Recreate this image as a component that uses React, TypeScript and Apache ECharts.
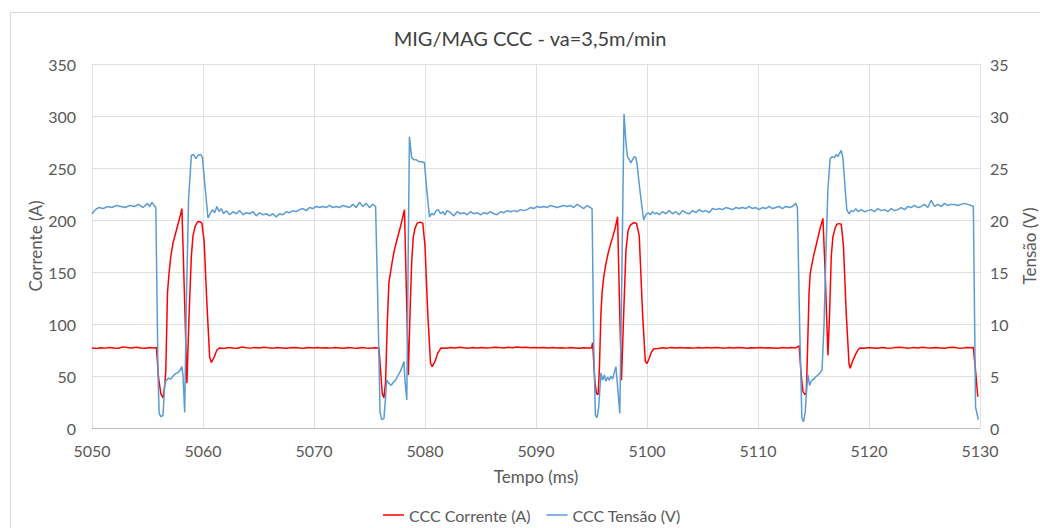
import React, { useEffect, useRef } from "react";
import * as echarts from "echarts";

const chartTitle = "MIG/MAG CCC - va=3,5m/min";
const currentName = "CCC Corrente (A)";
const voltageName = "CCC Tensão (V)";
const voltageAxisName = "Tensão (V)";

// [time (ms), current (A)]
const currentData: [number, number][] = [
  [5050.0, 77], [5050.4, 76.5], [5050.8, 77.2], [5051.2, 76.8], [5051.6, 77.5], [5052.0, 77], [5052.4, 76.6],
  [5052.8, 78], [5053.2, 77.3], [5053.6, 76.9], [5054.0, 77.6], [5054.4, 77], [5054.8, 76.7], [5055.2, 77.3],
  [5055.6, 77], [5055.8, 77.5], [5056.0, 48], [5056.2, 33], [5056.4, 29], [5056.55, 40], [5056.65, 55],
  [5056.8, 130], [5056.95, 150], [5057.1, 165], [5057.3, 178], [5057.5, 186], [5057.7, 194], [5057.9, 202],
  [5058.1, 211], [5058.35, 120], [5058.55, 43], [5058.75, 110], [5058.95, 165], [5059.1, 185], [5059.3, 194],
  [5059.5, 198], [5059.7, 198.5], [5059.9, 197], [5060.1, 180], [5060.35, 120], [5060.6, 68], [5060.75, 63],
  [5061.0, 68], [5061.25, 75], [5061.5, 77], [5061.9, 76.5], [5062.3, 77.5], [5062.7, 77], [5063.1, 76.6],
  [5063.5, 77.8], [5063.9, 77.2], [5064.3, 76.8], [5064.7, 77.4], [5065.1, 77], [5065.5, 77.6], [5065.9, 77.1],
  [5066.3, 76.8], [5066.7, 77.3], [5067.1, 77], [5067.5, 76.7], [5067.9, 77.2], [5068.3, 77.5], [5068.7, 77],
  [5069.1, 76.6], [5069.5, 77.3], [5069.9, 77], [5070.3, 77.5], [5070.7, 76.9], [5071.1, 77.2], [5071.5, 76.8],
  [5071.9, 77.3], [5072.3, 77], [5072.7, 76.6], [5073.1, 77.4], [5073.5, 77], [5073.9, 76.7], [5074.3, 77.5],
  [5074.7, 77], [5075.1, 76.8], [5075.5, 77.2], [5075.85, 77], [5076.0, 55], [5076.15, 33], [5076.3, 29],
  [5076.45, 45], [5076.6, 100], [5076.75, 140], [5076.9, 150], [5077.05, 160], [5077.2, 169], [5077.4, 178],
  [5077.6, 186], [5077.8, 194], [5078.0, 203], [5078.15, 210], [5078.35, 120], [5078.5, 51], [5078.65, 110],
  [5078.8, 160], [5078.95, 184], [5079.1, 192], [5079.3, 197], [5079.55, 198], [5079.8, 197], [5080.0, 175],
  [5080.25, 110], [5080.5, 62], [5080.65, 59], [5080.9, 64], [5081.15, 72], [5081.45, 77], [5081.9, 76.6],
  [5082.3, 77.3], [5082.7, 77], [5083.1, 77.6], [5083.5, 77.1], [5083.9, 76.8], [5084.3, 77.4], [5084.7, 77],
  [5085.1, 77.5], [5085.5, 76.9], [5085.9, 77.2], [5086.3, 77.7], [5086.7, 77.3], [5087.1, 77], [5087.5, 77.6],
  [5087.9, 77.2], [5088.3, 77.8], [5088.7, 77.4], [5089.1, 77.6], [5089.5, 77.2], [5089.9, 77.5], [5090.3, 77.1],
  [5090.7, 77.4], [5091.1, 77], [5091.5, 77.3], [5091.9, 76.9], [5092.3, 77.2], [5092.7, 76.8], [5093.1, 77.3],
  [5093.5, 77], [5093.9, 76.7], [5094.3, 77.2], [5094.7, 76.9], [5095.0, 77], [5095.1, 82], [5095.3, 45],
  [5095.45, 33], [5095.6, 32], [5095.72, 60], [5095.85, 110], [5095.95, 130], [5096.1, 145], [5096.3, 158],
  [5096.5, 168], [5096.75, 178], [5096.95, 185], [5097.15, 193], [5097.35, 203], [5097.5, 130], [5097.7, 46],
  [5097.9, 110], [5098.1, 170], [5098.3, 190], [5098.5, 195], [5098.8, 197.4], [5099.05, 197], [5099.3, 185],
  [5099.6, 110], [5099.85, 64], [5100.0, 62], [5100.2, 67], [5100.4, 73], [5100.6, 76], [5101.0, 76.5],
  [5101.4, 77.1], [5101.8, 76.8], [5102.2, 77.3], [5102.6, 76.9], [5103.0, 77.5], [5103.4, 77], [5103.8, 77.2],
  [5104.2, 76.8], [5104.6, 77.4], [5105.0, 77], [5105.4, 77.3], [5105.8, 76.9], [5106.2, 77.5], [5106.6, 77.1],
  [5107.0, 76.8], [5107.4, 77.3], [5107.8, 77], [5108.2, 77.5], [5108.6, 77.1], [5109.0, 76.7], [5109.4, 77.2],
  [5109.8, 77], [5110.2, 77.4], [5110.6, 76.9], [5111.0, 77.2], [5111.4, 77], [5111.8, 76.7], [5112.2, 77.3],
  [5112.6, 77], [5113.0, 77.4], [5113.4, 77], [5113.7, 79], [5113.9, 50], [5114.05, 35], [5114.25, 32],
  [5114.35, 34], [5114.45, 70], [5114.6, 130], [5114.7, 148], [5114.85, 157], [5115.0, 165], [5115.2, 174],
  [5115.4, 183], [5115.6, 192], [5115.85, 201.6], [5116.05, 150], [5116.3, 70], [5116.45, 110], [5116.6, 165],
  [5116.75, 184], [5116.95, 192], [5117.1, 196], [5117.3, 196.5], [5117.5, 196], [5117.7, 175], [5117.95, 110],
  [5118.2, 62], [5118.3, 57.4], [5118.55, 65], [5118.8, 71], [5119.0, 75], [5119.2, 77], [5119.6, 76.6],
  [5120.0, 77.3], [5120.4, 77], [5120.8, 76.7], [5121.2, 77.4], [5121.6, 77], [5122.0, 76.8], [5122.4, 77.3],
  [5122.8, 77.6], [5123.2, 77.1], [5123.6, 76.8], [5124.0, 77.3], [5124.4, 77], [5124.8, 77.6], [5125.2, 77.2],
  [5125.6, 76.9], [5126.0, 77.4], [5126.4, 77], [5126.8, 76.6], [5127.2, 77.3], [5127.6, 77.7], [5128.0, 77],
  [5128.4, 76.8], [5128.8, 77.5], [5129.2, 77.2], [5129.4, 77.5], [5129.6, 55], [5129.8, 30],
];

// [time (ms), voltage (V)]
const voltageData: [number, number][] = [
  [5050.0, 20.6], [5050.3, 21.0], [5050.6, 21.2], [5051.0, 21.1], [5051.4, 21.3], [5051.8, 21.2], [5052.2, 21.4],
  [5052.6, 21.3], [5053.0, 21.2], [5053.4, 21.4], [5053.8, 21.3], [5054.2, 21.5], [5054.6, 21.2], [5055.0, 21.6],
  [5055.2, 21.3], [5055.4, 21.7], [5055.6, 21.4], [5055.75, 21.2], [5055.95, 5.0], [5056.05, 1.4], [5056.2, 1.1],
  [5056.4, 1.2], [5056.55, 4.3], [5056.7, 4.6], [5056.9, 4.8], [5057.1, 4.7], [5057.3, 5.0], [5057.5, 5.2],
  [5057.7, 5.3], [5057.9, 5.5], [5058.1, 5.9], [5058.2, 5.0], [5058.35, 1.5], [5058.5, 12], [5058.7, 22],
  [5058.95, 26.2], [5059.15, 26.3], [5059.35, 25.9], [5059.55, 26.2], [5059.8, 26.3], [5059.95, 26.0],
  [5060.2, 23.0], [5060.45, 20.2], [5060.65, 20.6], [5060.85, 21.0], [5061.05, 20.7], [5061.25, 21.3],
  [5061.45, 20.8], [5061.65, 21.1], [5061.85, 20.6], [5062.1, 20.9], [5062.4, 20.5], [5062.7, 20.8], [5063.0, 20.6],
  [5063.3, 20.9], [5063.6, 20.5], [5063.9, 20.7], [5064.2, 20.6], [5064.5, 20.8], [5064.8, 20.4], [5065.1, 20.7],
  [5065.4, 20.5], [5065.7, 20.6], [5066.0, 20.4], [5066.3, 20.6], [5066.6, 20.3], [5066.9, 20.6], [5067.2, 20.5],
  [5067.5, 20.8], [5067.8, 20.7], [5068.1, 20.9], [5068.4, 20.8], [5068.7, 21.0], [5069.0, 21.1], [5069.3, 20.9],
  [5069.6, 21.2], [5069.9, 21.1], [5070.2, 21.3], [5070.5, 21.2], [5070.8, 21.3], [5071.1, 21.2], [5071.4, 21.4],
  [5071.7, 21.2], [5072.0, 21.3], [5072.3, 21.2], [5072.6, 21.4], [5072.9, 21.3], [5073.2, 21.2], [5073.5, 21.5],
  [5073.8, 21.2], [5074.1, 21.7], [5074.4, 21.3], [5074.7, 21.6], [5075.0, 21.2], [5075.3, 21.5], [5075.55, 21.3],
  [5075.75, 12], [5075.95, 1.5], [5076.1, 0.8], [5076.3, 0.9], [5076.45, 3.0], [5076.55, 4.6], [5076.75, 4.3],
  [5076.95, 4.1], [5077.15, 4.4], [5077.35, 4.6], [5077.55, 5.0], [5077.75, 5.4], [5077.95, 5.9], [5078.1, 6.4],
  [5078.2, 4.5], [5078.36, 2.7], [5078.5, 18], [5078.6, 28.0], [5078.8, 26.0], [5079.0, 25.8], [5079.2, 25.8],
  [5079.45, 25.6], [5079.7, 25.6], [5079.95, 25.5], [5080.15, 23.0], [5080.4, 20.3], [5080.6, 20.6], [5080.8, 20.5],
  [5081.0, 20.9], [5081.2, 21.0], [5081.4, 20.6], [5081.6, 20.8], [5081.8, 20.5], [5082.0, 20.9], [5082.3, 20.7],
  [5082.6, 20.4], [5082.9, 20.8], [5083.2, 20.6], [5083.5, 20.7], [5083.8, 20.5], [5084.1, 20.8], [5084.4, 20.6],
  [5084.7, 20.7], [5085.0, 20.5], [5085.3, 20.7], [5085.6, 20.6], [5085.9, 20.8], [5086.2, 20.6], [5086.5, 20.5],
  [5086.8, 20.8], [5087.1, 20.7], [5087.4, 20.9], [5087.7, 20.8], [5088.0, 20.9], [5088.3, 20.8], [5088.6, 21.0],
  [5088.9, 20.9], [5089.2, 21.0], [5089.5, 21.2], [5089.8, 21.1], [5090.1, 21.3], [5090.4, 21.2], [5090.7, 21.3],
  [5091.0, 21.2], [5091.3, 21.4], [5091.6, 21.3], [5091.9, 21.2], [5092.2, 21.3], [5092.5, 21.4], [5092.8, 21.3],
  [5093.1, 21.4], [5093.4, 21.2], [5093.7, 21.5], [5094.0, 21.3], [5094.3, 21.1], [5094.6, 21.4], [5094.9, 21.2],
  [5095.05, 21.1], [5095.2, 8], [5095.35, 1.2], [5095.5, 1.0], [5095.65, 2.0], [5095.85, 5.3], [5096.0, 4.6],
  [5096.15, 5.1], [5096.3, 4.5], [5096.45, 4.9], [5096.6, 4.6], [5096.75, 5.0], [5096.9, 4.7], [5097.05, 5.3],
  [5097.2, 5.9], [5097.35, 4.0], [5097.55, 1.4], [5097.75, 16], [5097.93, 30.2], [5098.1, 27.5], [5098.24, 26.1],
  [5098.4, 25.8], [5098.55, 25.5], [5098.7, 25.8], [5098.85, 26.1], [5099.0, 26.0], [5099.1, 25.4], [5099.4, 22.5],
  [5099.7, 20.0], [5099.9, 20.5], [5100.1, 20.7], [5100.3, 20.5], [5100.5, 20.8], [5100.7, 20.6], [5100.9, 20.7],
  [5101.1, 20.5], [5101.4, 20.8], [5101.7, 20.6], [5102.0, 20.9], [5102.3, 20.6], [5102.6, 20.8], [5102.9, 20.5],
  [5103.2, 20.9], [5103.5, 20.7], [5103.8, 20.6], [5104.1, 20.9], [5104.4, 20.7], [5104.7, 21.0], [5105.0, 20.8],
  [5105.3, 20.9], [5105.6, 20.7], [5105.9, 21.1], [5106.2, 21.0], [5106.5, 21.1], [5106.8, 21.0], [5107.1, 21.2],
  [5107.4, 21.1], [5107.7, 21.0], [5108.0, 21.2], [5108.3, 21.1], [5108.6, 21.2], [5108.9, 21.1], [5109.2, 21.3],
  [5109.5, 21.1], [5109.8, 21.2], [5110.1, 21.0], [5110.4, 21.2], [5110.7, 21.1], [5111.0, 21.3], [5111.3, 21.1],
  [5111.6, 21.2], [5111.9, 21.3], [5112.2, 21.1], [5112.5, 21.3], [5112.8, 21.2], [5113.1, 21.3], [5113.4, 21.6],
  [5113.55, 21.2], [5113.75, 10], [5113.95, 1.0], [5114.1, 0.6], [5114.25, 1.5], [5114.4, 4.0], [5114.5, 5.1],
  [5114.65, 4.1], [5114.8, 4.5], [5115.0, 4.7], [5115.2, 4.9], [5115.4, 5.1], [5115.6, 5.3], [5115.77, 5.6],
  [5115.95, 10], [5116.15, 18], [5116.3, 23], [5116.5, 25.9], [5116.7, 26.1], [5116.9, 26.0], [5117.05, 26.3],
  [5117.2, 26.1], [5117.35, 26.4], [5117.5, 26.7], [5117.65, 26.0], [5117.85, 23.0], [5118.0, 21.0], [5118.2, 20.6],
  [5118.4, 20.9], [5118.6, 20.8], [5118.8, 21.1], [5119.0, 20.8], [5119.3, 21.0], [5119.6, 20.8], [5119.9, 20.9],
  [5120.2, 21.0], [5120.5, 20.8], [5120.8, 21.1], [5121.1, 20.9], [5121.4, 21.0], [5121.7, 20.8], [5122.0, 21.1],
  [5122.3, 20.9], [5122.6, 21.0], [5122.9, 21.2], [5123.2, 21.0], [5123.5, 21.3], [5123.8, 21.2], [5124.1, 21.4],
  [5124.4, 21.2], [5124.7, 21.3], [5125.0, 21.5], [5125.3, 21.2], [5125.6, 21.9], [5125.9, 21.3], [5126.2, 21.5],
  [5126.5, 21.3], [5126.8, 21.6], [5127.1, 21.4], [5127.4, 21.5], [5127.7, 21.5], [5128.0, 21.4], [5128.3, 21.5],
  [5128.6, 21.6], [5128.9, 21.5], [5129.2, 21.4], [5129.4, 21.3], [5129.6, 2.0], [5129.85, 0.8],
];

const FONT = "Lato, 'Open Sans', sans-serif";
const TEXT = "#595959";

export default function App() {
  const ref = useRef<HTMLDivElement>(null);
  useEffect(() => {
    if (!ref.current) return;
    const chart = echarts.init(ref.current, undefined, { renderer: "svg" });
    chart.setOption({
      animation: false,
      backgroundColor: "#ffffff",
      textStyle: { fontFamily: FONT },
      title: {
        text: chartTitle,
        left: 525,
        textAlign: "center",
        top: 23,
        textStyle: { fontFamily: FONT, fontSize: 20, fontWeight: "normal", color: "#404040" },
      },
      graphic: [
        {
          type: "rect",
          shape: { x: 10.5, y: 12.5, width: 1040, height: 530 },
          style: { fill: "none", stroke: "#d9d9d9", lineWidth: 1 },
          silent: true,
        },
        {
          type: "text",
          x: 1029,
          y: 246,
          rotation: Math.PI / 2,
          silent: true,
          style: {
            text: voltageAxisName,
            fontFamily: FONT,
            fontSize: 17,
            fill: TEXT,
            align: "center",
            verticalAlign: "middle",
          },
        },
      ],
      legend: {
        bottom: 0,
        left: 378,
        icon: "rect",
        itemWidth: 21,
        itemHeight: 1.5,
        itemGap: 16,
        textStyle: { fontFamily: FONT, fontSize: 16, color: TEXT },
        data: [currentName, voltageName],
      },
      grid: { left: 92, right: 60, top: 64, bottom: 100, containLabel: false },
      xAxis: {
        type: "value",
        min: 5050,
        max: 5130,
        interval: 10,
        name: "Tempo (ms)",
        nameLocation: "middle",
        nameGap: 40,
        nameMoveOverlap: false,
        nameTextStyle: { fontFamily: FONT, fontSize: 17, color: TEXT },
        axisLine: { show: true, onZero: false, lineStyle: { color: "#bfbfbf", width: 1 } },
        axisTick: { show: false },
        axisLabel: {
          fontFamily: FONT,
          fontSize: 16,
          color: TEXT,
          margin: 14,
          formatter: (v: number) => String(v),
        },
        splitLine: { show: true, lineStyle: { color: "#e0e0e0", width: 1 } },
      },
      yAxis: [
        {
          type: "value",
          min: 0,
          max: 350,
          interval: 50,
          name: "Corrente (A)",
          nameLocation: "middle",
          nameGap: 48,
          nameRotate: 90,
          nameMoveOverlap: false,
          nameTextStyle: { fontFamily: FONT, fontSize: 17, color: TEXT },
          axisLine: { show: false },
          axisTick: { show: false },
          axisLabel: { fontFamily: FONT, fontSize: 16, color: TEXT, margin: 16 },
          splitLine: { show: true, lineStyle: { color: "#e0e0e0", width: 1 } },
        },
        {
          type: "value",
          min: 0,
          max: 35,
          interval: 5,
          position: "right",
          axisLine: { show: false },
          axisTick: { show: false },
          axisLabel: { fontFamily: FONT, fontSize: 16, color: TEXT, margin: 10 },
          splitLine: { show: false },
        },
      ],
      series: [
        {
          name: currentName,
          type: "line",
          yAxisIndex: 0,
          data: currentData,
          symbol: "none",
          showSymbol: false,
          lineStyle: { color: "#ff0000", width: 1.5 },
          itemStyle: { color: "#ff0000" },
          z: 2,
        },
        {
          name: voltageName,
          type: "line",
          yAxisIndex: 1,
          data: voltageData,
          symbol: "none",
          showSymbol: false,
          lineStyle: { color: "#5b9bd5", width: 1.5 },
          itemStyle: { color: "#5b9bd5" },
          z: 3,
        },
      ],
    });
    return () => chart.dispose();
  }, []);
  return (
    <div
      ref={ref}
      style={{ position: "fixed", left: 0, top: 0, width: 1040, height: 528 }}
    />
  );
}
